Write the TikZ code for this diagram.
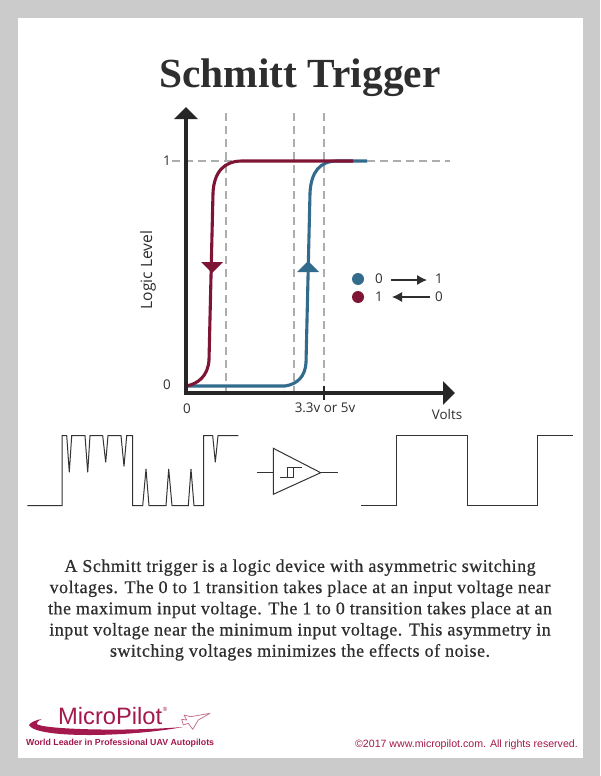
\documentclass[tikz,border=0pt]{standalone}
\usepackage{fontspec}
\usetikzlibrary{arrows.meta}
\setmainfont{Liberation Serif}
\newfontfamily\bodyfont{Liberation Serif}[LetterSpace=2.7,FakeBold=0.6]
\newfontfamily\labelfont{Open Sans}
\newfontfamily\logofont{Liberation Sans}
\definecolor{pagegray}{HTML}{CBCBCB}
\definecolor{upblue}{HTML}{336B8C}
\definecolor{downred}{HTML}{7F1535}
\definecolor{logored}{HTML}{A3184D}
\definecolor{inkgray}{HTML}{2E2E2E}
\definecolor{guidegray}{HTML}{ADADAD}
\begin{document}
\begin{tikzpicture}[x=1pt,y=-1pt,>={Latex[length=10pt,width=10pt]},
		axisline/.style={line width=3.3pt,black!85,-{Triangle[length=12pt,width=23pt]}},
		guide/.style={guidegray,line width=1.1pt,dash pattern=on 8pt off 5pt},
		curve/.style={line width=3.1pt},
		wave/.style={line width=1pt,black!80,line join=miter},
		lab/.style={font=\labelfont\fontsize{13.4}{15}\selectfont,text=inkgray,inner sep=0pt}]
			\useasboundingbox (0,0) rectangle (600,776);
			\fill[pagegray] (0,0) rectangle (600,776);
			\fill[white] (18,18) rectangle (583,758);
			\node[inner sep=0pt,text=inkgray,font=\fontsize{41.4}{45}\selectfont\bfseries] (title) at (300,78) {Schmitt Trigger};
			% guide lines
			\foreach \x in {226,294,324}{
				\draw[guide] (\x,113)--(\x,393);
			}
			\draw[guide] (172,161)--(450,161);
			% curves
			\draw[curve,upblue] (186,386)--(285,386) .. controls (298,384) and (305,376) .. (306,363)--(310,193) .. controls (311,172) and (320,161) .. (337,161)--(367,161);
			\draw[curve,downred] (186,386) .. controls (198,384) and (208,376) .. (209,360)--(213,193) .. controls (214,172) and (224,161) .. (242,161)--(353,161);
			\fill[downred] (201,262)--(223,262)--(212,273)--cycle;
			\fill[upblue] (297,272)--(319,272)--(308,261)--cycle;
			% axes
			\coordinate (origin) at (186,393);
			\coordinate (top) at (186,107);
			\coordinate (right) at (455,393);
			\draw[axisline] (186,394.6)--(top);
			\draw[axisline] (origin)--(right);
			\draw[line width=1.2pt,black!85] (324,386)--(324,400);
			% axis labels
			\node[lab,font=\labelfont\fontsize{15.6}{17}\selectfont,rotate=90] (ylab) at (148,270) {Logic Level};
			\node[lab] (xlab) at (447,414) {Volts};
			\node[lab] (vlab) at (325,408) {3.3v or 5v};
			\node[lab] (xzero) at (187,409) {0};
			\node[lab] (yone) at (167,161) {1};
			\node[lab] (yzero) at (167,385) {0};
			% legend
			\fill[upblue] (358,279) circle (6);
			\fill[downred] (358,297) circle (6);
			\node[lab] (a0) at (379,279) {0};
			\node[lab] (a1) at (439,279) {1};
			\node[lab] (b1) at (379,297) {1};
			\node[lab] (b0) at (439,297) {0};
			\draw[->,line width=1.1pt,inkgray] (a0.east)+(8,1)--(427,280);
			\draw[->,line width=1.1pt,inkgray] (b0.west)+(-5,0)--(392,297);
			% input and output waves
			\draw[wave] (27.3,505.7)--(62,505.7)--(62,435.7)--(66.7,435.7)--(69.3,472.3)--(71.7,435.7)--(85,435.7)--(87.7,472.3)--(90,435.7)--(102.7,435.7)--(105.7,462.3)--(108,435.7)--(121,435.7)--(124,466.3)--(126.7,435.7)--(132.7,435.7)--(132.7,505.7)--(142.7,505.7)--(146,469)--(149,505.7)--(166,505.7)--(168.7,469)--(172,505.7)--(188.3,505.7)--(191,469)--(194,505.7)--(203.7,505.7)--(203.7,435.7)--(212.7,435.7)--(215.3,462.3)--(218,435.7)--(238.3,435.7);
			\draw[wave] (361,505.7)--(396.3,505.7)--(396.3,435.7)--(467.3,435.7)--(467.3,505)--(537.7,505)--(537.7,435.7)--(572.7,435.7);
			% buffer symbol
			\draw[wave] (273.3,448.3)--(273.3,494.3)--(320.7,472.7)--cycle;
			\draw[wave] (257.3,472.7)--(273.3,472.7);
			\draw[wave] (320.7,472.7)--(337.7,472.7);
			\draw[wave] (280,477.3)--(293.3,477.3)--(293.3,467.7)--(302.3,467.7);
			\draw[wave] (287.7,477.3)--(287.7,467.7)--(293.3,467.7);
			% body text
			\node[inner sep=0pt,text=inkgray,align=center,font=\bodyfont\fontsize{18}{21.2}\selectfont] (body) at (300,610) {A Schmitt trigger is a logic device with asymmetric switching\\voltages. The 0 to 1 transition takes place at an input voltage near\\the maximum input voltage. The 1 to 0 transition takes place at an\\input voltage near the minimum input voltage. This asymmetry in\\switching voltages minimizes the effects of noise.};
			% logo
			\node[inner sep=0pt,anchor=base west,text=logored,font=\logofont\fontsize{23.7}{26}\selectfont] (logo) at (58,724) {MicroPilot};
			\node[inner sep=0pt,text=logored,font=\logofont\fontsize{6}{7}\selectfont] (reg) at (165,709) {®};
			\fill[logored] (29,725) .. controls (31,722) and (36,720) .. (41.7,719) .. controls (38,721) and (36.5,722.5) .. (36.7,724) .. controls (42,729) and (120,732) .. (183,727) .. controls (130,737) and (36,739) .. (29,725)--cycle;
			\draw[logored!65,line width=0.7pt,line join=round] (210,713.3)--(190.7,716.7)--(184,715)--(186.7,720)--(181.7,719.3)--(183.3,725)--(188.3,723.3)--(192.7,729.3)--(198.3,720)--cycle;
			\node[inner sep=0pt,anchor=west,text=logored,font=\logofont\bfseries\fontsize{8.8}{11}\selectfont] (tagline) at (26,743) {World Leader in Professional UAV Autopilots};
			\node[inner sep=0pt,anchor=east,text=logored,font=\logofont\fontsize{10.6}{12}\selectfont] (copy) at (578,745) {©2017 www.micropilot.com. All rights reserved.};
		\end{tikzpicture}
\end{document}
